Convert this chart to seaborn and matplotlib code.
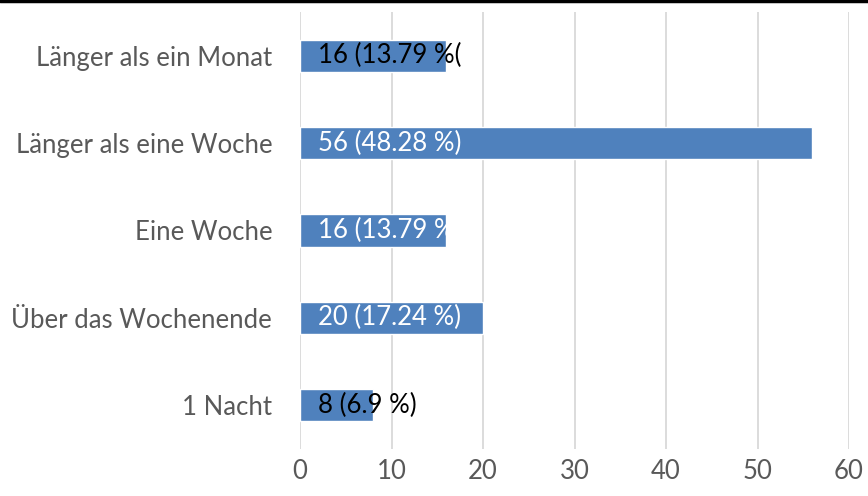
import pandas as pd
import seaborn as sns
import matplotlib.pyplot as plt
from matplotlib.lines import Line2D

# Daten
kategorien = ["Länger als ein Monat", "Länger als eine Woche", "Eine Woche",
              "Über das Wochenende", "1 Nacht"]
anzahl = [16, 56, 16, 20, 8]
beschriftung = ["16 (13.79 %(", "56 (48.28 %)", "16 (13.79 %)",
                "20 (17.24 %)", "8 (6.9 %)"]
textfarbe = ["black", "white", "white", "white", "black"]

df = pd.DataFrame({"kategorie": kategorien, "anzahl": anzahl})

sns.set_style("white")
plt.rcParams['font.family'] = ['Lato', 'DejaVu Sans']

fig = plt.figure(figsize=(8.68, 4.96), dpi=100)
ax = fig.add_axes([300/868, 1 - 449/496, 549/868, 437/496])

sns.barplot(data=df, x="anzahl", y="kategorie", color="#4F81BD",
            saturation=1, width=0.37, ax=ax, zorder=2)

ax.set_xlim(0, 60)
ax.set_ylim(4.5, -0.5)
ax.set_xticks(range(0, 61, 10))
ax.xaxis.grid(True, color="#D9D9D9", linewidth=1.3, zorder=0)
ax.set_axisbelow(True)
for s in ax.spines.values():
    s.set_visible(False)
ax.set_xlabel("")
ax.set_ylabel("")
ax.tick_params(axis="x", labelsize=18.5, colors="#595959", length=0, pad=7)
ax.tick_params(axis="y", labelsize=18.5, colors="#595959", length=0, pad=20)

for i, (txt, farbe) in enumerate(zip(beschriftung, textfarbe)):
    ax.annotate(txt, xy=(0, i), xytext=(13, 0), textcoords="offset points",
                va="center", ha="left", fontsize=18.5, color=farbe, zorder=3)

fig.add_artist(Line2D([0, 1], [0.998, 0.998], color="black", linewidth=2.5,
                      transform=fig.transFigure))

fig.savefig("out.png", dpi=100)
